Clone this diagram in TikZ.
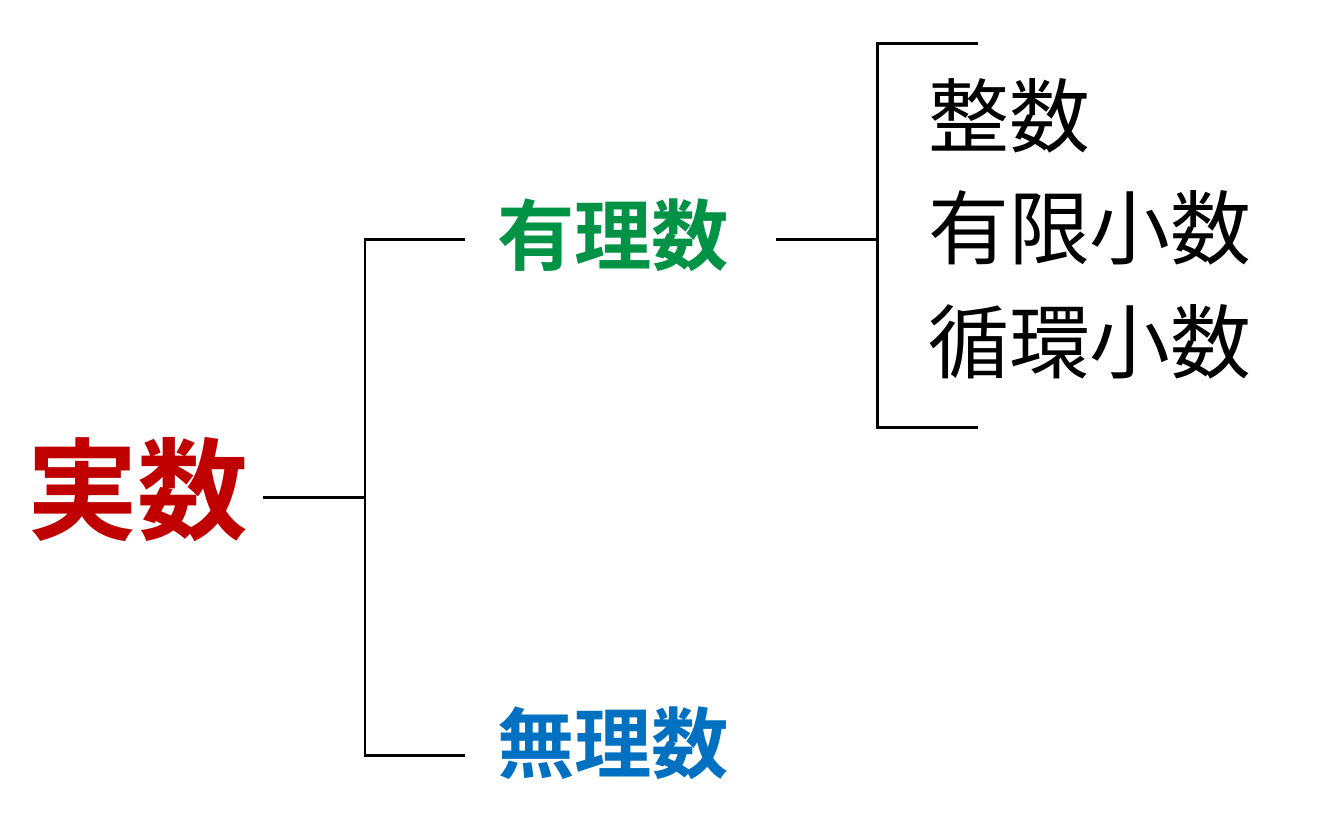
\documentclass[tikz,border=0pt]{standalone}
\usepackage{fontspec}
\newfontfamily\cjk{Noto Sans CJK JP}
\newfontfamily\cjkb{Noto Sans CJK JP Bold}
\usetikzlibrary{positioning}
\definecolor{jred}{RGB}{192,0,0}
\definecolor{jgreen}{RGB}{0,146,69}
\definecolor{jblue}{RGB}{0,112,192}
\tikzset{line/.style={line width=1.7pt},
  kind/.style={inner sep=0pt,font=\cjkb\fontsize{44}{48}\selectfont}}
\begin{document}
\begin{tikzpicture}[x=0.02cm,y=-0.02cm]
\useasboundingbox (0,0) rectangle (1333,833);
\node[inner sep=0pt,text=jred,font=\cjkb\fontsize{63}{66}\selectfont] (real) at (138,490) {実数};
\node[kind,text=jgreen] (rat) at (613,235) {有理数};
\node[kind,text=jblue] (irr) at (613,743) {無理数};
\node[inner sep=0pt,anchor=west,font=\cjk\fontsize{46}{50}\selectfont] (int) at (928,116) {整数};
\node[inner sep=0pt,anchor=west,font=\cjk\fontsize{46}{50}\selectfont] (fin) at (928,228) {有限小数};
\node[inner sep=0pt,anchor=west,font=\cjk\fontsize{46}{50}\selectfont] (rec) at (928,342) {循環小数};

% tree
\coordinate (fork) at (365,497);
\coordinate (ratend) at (465,239);
\coordinate (irrend) at (465,755);
\draw[line] (263,497) -- (fork);
\draw[line] (ratend) -- (365,239) -- (365,755) -- (irrend);

% bracket
\coordinate (brk) at (877,239);
\draw[line] (776,239) -- (brk);
\draw[line] (978,43) -- (877,43) -- (877,427) -- (978,427);
\end{tikzpicture}
\end{document}
